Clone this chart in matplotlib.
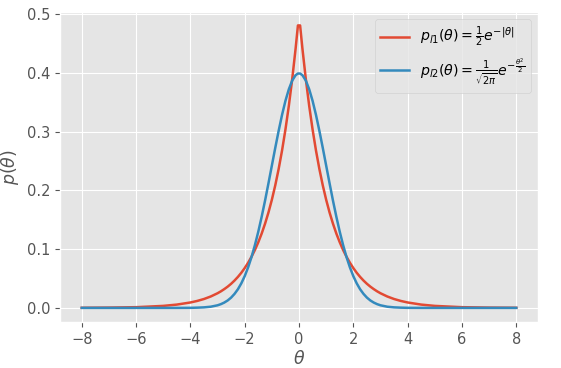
import matplotlib
matplotlib.use("Agg")
import matplotlib.pyplot as plt

plt.style.use("ggplot")

# theta grid (positive half; mirrored for negative side)
theta_pos = [0.04, 0.125, 0.25, 0.375, 0.5, 0.625, 0.75, 0.875, 1.0, 1.125, 1.25, 1.375,
             1.5, 1.625, 1.75, 1.875, 2.0, 2.125, 2.25, 2.375, 2.5, 2.625, 2.75, 2.875,
             3.0, 3.25, 3.5, 3.75, 4.0, 4.5, 5.0, 6.0, 7.0, 8.0]
laplace_pos = [0.4804, 0.4412, 0.3894, 0.3436, 0.3033, 0.2676, 0.2362, 0.2084, 0.1839,
               0.1623, 0.1433, 0.1264, 0.1116, 0.0984, 0.0869, 0.0767, 0.0677, 0.0597,
               0.0527, 0.0465, 0.0410, 0.0362, 0.0320, 0.0282, 0.0249, 0.0194, 0.0151,
               0.0118, 0.0092, 0.0056, 0.0034, 0.0012, 0.0005, 0.0002]
gauss_pos = [0.3986, 0.3958, 0.3867, 0.3718, 0.3521, 0.3282, 0.3011, 0.2721, 0.2420,
             0.2119, 0.1826, 0.1550, 0.1295, 0.1066, 0.0863, 0.0688, 0.0540, 0.0417,
             0.0317, 0.0238, 0.0175, 0.0127, 0.0091, 0.0064, 0.0044, 0.0020, 0.0009,
             0.0004, 0.0001, 0.0000, 0.0000, 0.0000, 0.0000, 0.0000]

theta = [-t for t in theta_pos[::-1]] + theta_pos
laplace = laplace_pos[::-1] + laplace_pos
gauss = gauss_pos[::-1] + gauss_pos

fig = plt.figure(figsize=(5.61, 3.68), dpi=100)
ax = fig.add_axes([0.107, 0.125, 0.852, 0.842])
ax.plot(theta, laplace, color="#E24A33", lw=1.8,
        label=r"$p_{l1}(\theta)=\frac{1}{2}e^{-|\theta|}$")
ax.plot(theta, gauss, color="#348ABD", lw=1.8,
        label=r"$p_{l2}(\theta)=\frac{1}{\sqrt{2\pi}}e^{-\frac{\theta^2}{2}}$")
ax.set_xticks([-8, -6, -4, -2, 0, 2, 4, 6, 8])
ax.set_yticks([0.0, 0.1, 0.2, 0.3, 0.4, 0.5])
ax.set_xlim(-8.8, 8.8)
ax.set_ylim(-0.024, 0.503)
ax.tick_params(labelsize=10.5)
ax.set_xlabel(r"$\theta$", fontsize=12.5, labelpad=2)
ax.set_ylabel(r"$p(\theta)$", fontsize=12.5)
ax.legend(loc="upper right", fontsize=10.2)
fig.savefig("out.png", dpi=100)
